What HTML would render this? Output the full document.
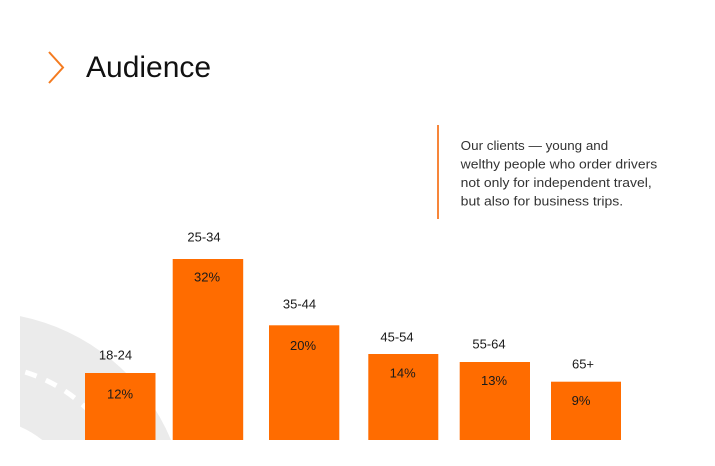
<!DOCTYPE html>
<html>
<head>
<meta charset="utf-8">
<style>
  html,body{margin:0;padding:0;background:#fff;width:715px;height:466px;overflow:hidden;}
  svg{display:block;}
  text{font-family:"Liberation Sans", Arial, sans-serif;}
</style>
</head>
<body>
<svg width="715" height="466" viewBox="0 0 715 466" xmlns="http://www.w3.org/2000/svg" overflow="hidden">
  <rect width="715" height="466" fill="#ffffff"/>

  <!-- road -->
  <path d="M20 316.1 A208 208 0 0 1 171 440 L42.3 440 A102 102 0 0 0 20 426.6 Z" fill="#ebebeb"/>
  <path d="M25.3 372.1 A155 155 0 0 1 111.8 440" fill="none" stroke="#ffffff" stroke-width="5" stroke-dasharray="12 10"/>

  <!-- title -->
  <polyline points="49,52 63,67.5 49,83" fill="none" stroke="#f47b20" stroke-width="2"/>
  <text x="86" y="77" font-size="30" fill="#111">Audience</text>

  <!-- quote -->
  <rect x="437" y="125" width="2" height="94" fill="#f7863a"/>
  <g font-size="13" fill="#333">
    <text x="460.7" y="150" textLength="147.5" lengthAdjust="spacingAndGlyphs">Our clients — young and</text>
    <text x="460.7" y="168.5" textLength="196.5" lengthAdjust="spacingAndGlyphs">welthy people who order drivers</text>
    <text x="460.7" y="187" textLength="191" lengthAdjust="spacingAndGlyphs">not only for independent travel,</text>
    <text x="460.7" y="205.5" textLength="162.5" lengthAdjust="spacingAndGlyphs">but also for business trips.</text>
  </g>

  <!-- bars -->
  <g fill="#ff6c00">
    <rect x="85" y="373" width="70.5" height="67"/>
    <rect x="172.7" y="259" width="70.5" height="181"/>
    <rect x="269" y="325.3" width="70.3" height="114.7"/>
    <rect x="368.3" y="354" width="70" height="86"/>
    <rect x="459.7" y="362" width="70.3" height="78"/>
    <rect x="551" y="381.7" width="70" height="58.3"/>
  </g>

  <!-- labels -->
  <g font-size="13" fill="#1a1a1a" text-anchor="middle">
    <text x="115.5" y="359.3">18-24</text>
    <text x="120" y="398.3">12%</text>
    <text x="204" y="241.7">25-34</text>
    <text x="207" y="281.7">32%</text>
    <text x="299.5" y="308.3">35-44</text>
    <text x="303" y="350">20%</text>
    <text x="397" y="341.7">45-54</text>
    <text x="402.7" y="377.5">14%</text>
    <text x="489" y="348.3">55-64</text>
    <text x="494" y="385">13%</text>
    <text x="583" y="368.3">65+</text>
    <text x="581" y="405">9%</text>
  </g>
</svg>
</body>
</html>
